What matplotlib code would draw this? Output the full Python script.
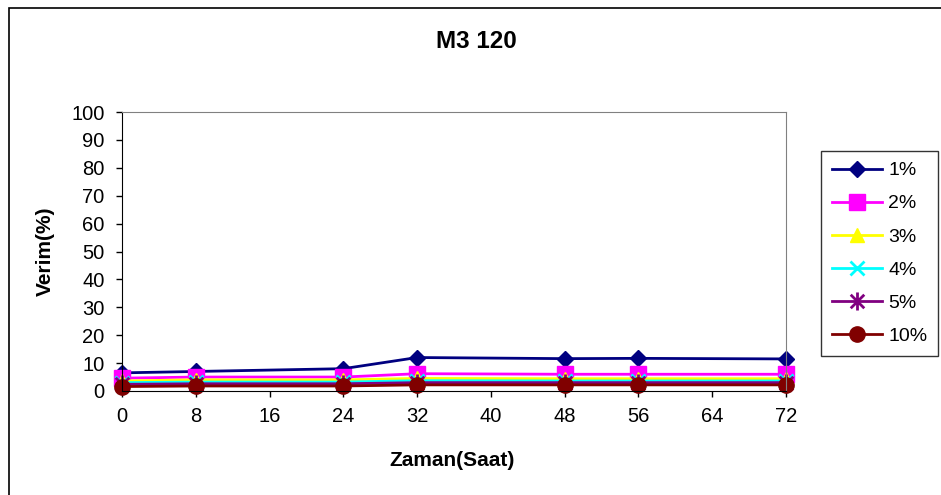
import matplotlib
matplotlib.use("Agg")
import matplotlib.pyplot as plt
from matplotlib.patches import Rectangle
from matplotlib.path import Path

plt.rcParams['font.family'] = ['Liberation Sans', 'DejaVu Sans']

# data
saat = [0, 8, 24, 32, 48, 56, 72]
labels = ['1%', '2%', '3%', '4%', '5%', '10%']
v1 = [6.5, 7.0, 8.0, 12.0, 11.6, 11.7, 11.5]
v2 = [4.6, 5.0, 5.0, 6.2, 6.0, 6.0, 6.0]
v3 = [3.6, 4.0, 4.0, 4.5, 4.4, 4.4, 4.4]
v4 = [3.0, 3.2, 3.2, 3.7, 3.6, 3.6, 3.6]
v5 = [2.4, 2.6, 2.6, 3.0, 3.0, 3.0, 3.0]
v10 = [1.6, 1.8, 1.8, 2.2, 2.2, 2.2, 2.2]

# excel style asterisk: x plus a vertical bar
star = Path([(-0.75, -0.75), (0.75, 0.75), (-0.75, 0.75), (0.75, -0.75), (0, -1), (0, 1)],
            [Path.MOVETO, Path.LINETO, Path.MOVETO, Path.LINETO, Path.MOVETO, Path.LINETO])

series = [v1, v2, v3, v4, v5, v10]
colors = ['#000080', '#FF00FF', '#FFFF00', '#00FFFF', '#800080', '#800000']
markers = ['D', 's', '^', 'x', star, 'o']
sizes = [8, 11, 10, 10, 13, 11]

fig = plt.figure(figsize=(9.41, 4.95), dpi=100)
fig.patches.append(Rectangle((9/941, -0.1), 1.1, 1 - 8/495 + 0.1, transform=fig.transFigure,
                             fill=False, edgecolor='black', linewidth=1.2))
ax = fig.add_axes([122/941, 1 - 391/495, (786 - 122)/941, (391 - 112)/495])

for vals, lab, c, m, s in zip(series, labels, colors, markers, sizes):
    line_marker = m is star or (isinstance(m, str) and m == 'x')
    ax.plot(saat, vals, color=c, marker=m, markersize=s, linewidth=2,
            markeredgewidth=2 if line_marker else 1,
            markeredgecolor=c, label=lab, clip_on=False)

ax.set_xlim(0, 72)
ax.set_ylim(0, 100)
ax.set_xticks(range(0, 73, 8))
ax.set_yticks(range(0, 101, 10))
ax.tick_params(labelsize=14.5, direction='out', length=4.5, width=1)
ax.tick_params(axis='y', pad=8)
ax.tick_params(axis='x', pad=7)
for side in ['top', 'right']:
    ax.spines[side].set_color('#808080')
for side in ['left', 'bottom']:
    ax.spines[side].set_color('black')

fig.text(476/941, 1 - 41/495, 'M3 120', ha='center', va='center', fontsize=17.5, fontweight='bold')
fig.text(45/941, 1 - 251/495, 'Verim(%)', ha='center', va='center', rotation=90,
         fontsize=15, fontweight='bold')
fig.text(452/941, 1 - 460/495, 'Zaman(Saat)', ha='center', va='center', fontsize=15, fontweight='bold')

leg = fig.legend(loc='upper left', bbox_to_anchor=(821/941, 1 - 151/495), fontsize=14,
                 frameon=True, fancybox=False, edgecolor='black', handlelength=2.6,
                 labelspacing=0.8, borderpad=0.55, borderaxespad=0, handletextpad=0.3)
leg.get_frame().set_linewidth(1)

fig.savefig('out.png', dpi=100)
